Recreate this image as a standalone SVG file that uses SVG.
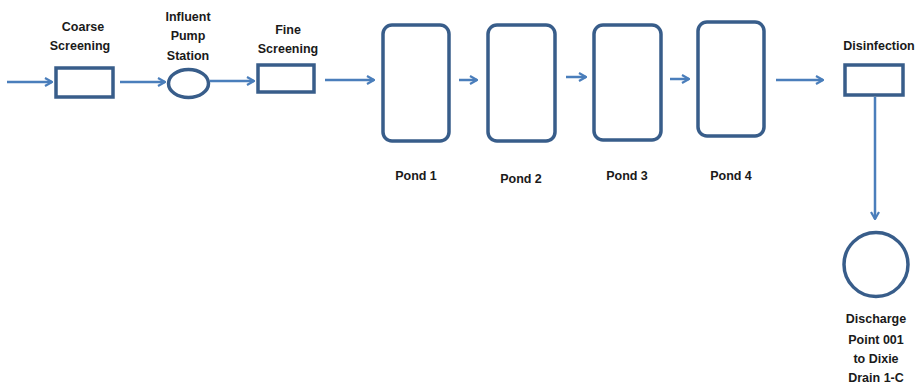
<svg xmlns="http://www.w3.org/2000/svg" width="919" height="387" viewBox="0 0 919 387">
  <style>
    .shape { fill: #ffffff; stroke: #385d8a; stroke-width: 3.5; }
    .flow { fill: none; stroke: #4a7ebb; stroke-width: 2.5; }
    .lbl { font-family: "Liberation Sans", Arial, sans-serif; font-weight: bold; font-size: 12.5px; fill: #1a1a1a; text-anchor: middle; }
  </style>
  <defs>
    <marker id="arrow" viewBox="0 0 10 10" refX="9" refY="5" markerWidth="4" markerHeight="4" orient="auto" markerUnits="strokeWidth">
      <path d="M2,1 L9,5 L2,9" fill="none" stroke="#4a7ebb" stroke-width="2.2" stroke-linejoin="miter"/>
    </marker>
  </defs>
  <rect width="919" height="387" fill="#ffffff"/>

  <g id="connectors">
    <line class="flow" x1="7" y1="82" x2="52" y2="82" marker-end="url(#arrow)"/>
    <line class="flow" x1="120" y1="82" x2="165" y2="82" marker-end="url(#arrow)"/>
    <line class="flow" x1="210" y1="81" x2="254" y2="81" marker-end="url(#arrow)"/>
    <line class="flow" x1="325" y1="80" x2="374" y2="80" marker-end="url(#arrow)"/>
    <line class="flow" x1="459" y1="80" x2="477" y2="80" marker-end="url(#arrow)"/>
    <line class="flow" x1="566" y1="77" x2="586" y2="77" marker-end="url(#arrow)"/>
    <line class="flow" x1="670" y1="79" x2="689" y2="79" marker-end="url(#arrow)"/>
    <line class="flow" x1="776" y1="80" x2="823" y2="80" marker-end="url(#arrow)"/>
    <line class="flow" x1="875" y1="97" x2="875" y2="219" marker-end="url(#arrow)"/>
  </g>

  <g id="coarse-screening">
    <rect class="shape" x="56" y="68" width="57" height="29"/>
    <text class="lbl" x="83" y="31">Coarse</text>
    <text class="lbl" x="80" y="50">Screening</text>
  </g>

  <g id="influent-pump-station">
    <ellipse class="shape" cx="188.5" cy="83.5" rx="20" ry="14"/>
    <text class="lbl" x="188" y="21">Influent</text>
    <text class="lbl" x="188" y="40">Pump</text>
    <text class="lbl" x="188" y="59.5">Station</text>
  </g>

  <g id="fine-screening">
    <rect class="shape" x="258" y="65" width="56" height="27"/>
    <text class="lbl" x="288" y="34">Fine</text>
    <text class="lbl" x="288" y="53">Screening</text>
  </g>

  <g id="pond-1">
    <rect class="shape" x="383" y="25" width="66" height="116" rx="9"/>
    <text class="lbl" x="416" y="180">Pond 1</text>
  </g>

  <g id="pond-2">
    <rect class="shape" x="488" y="25" width="67" height="116" rx="9"/>
    <text class="lbl" x="521" y="183">Pond 2</text>
  </g>

  <g id="pond-3">
    <rect class="shape" x="594" y="25" width="67" height="115" rx="9"/>
    <text class="lbl" x="627" y="180">Pond 3</text>
  </g>

  <g id="pond-4">
    <rect class="shape" x="698" y="22" width="66" height="114" rx="9"/>
    <text class="lbl" x="731" y="180">Pond 4</text>
  </g>

  <g id="disinfection">
    <rect class="shape" x="845" y="65" width="58" height="30"/>
    <text class="lbl" x="879" y="50">Disinfection</text>
  </g>

  <g id="discharge-point">
    <circle class="shape" cx="876" cy="264.5" r="32"/>
    <text class="lbl" x="876" y="323">Discharge</text>
    <text class="lbl" x="876" y="344">Point 001</text>
    <text class="lbl" x="876" y="363">to Dixie</text>
    <text class="lbl" x="876" y="382">Drain 1-C</text>
  </g>
</svg>
